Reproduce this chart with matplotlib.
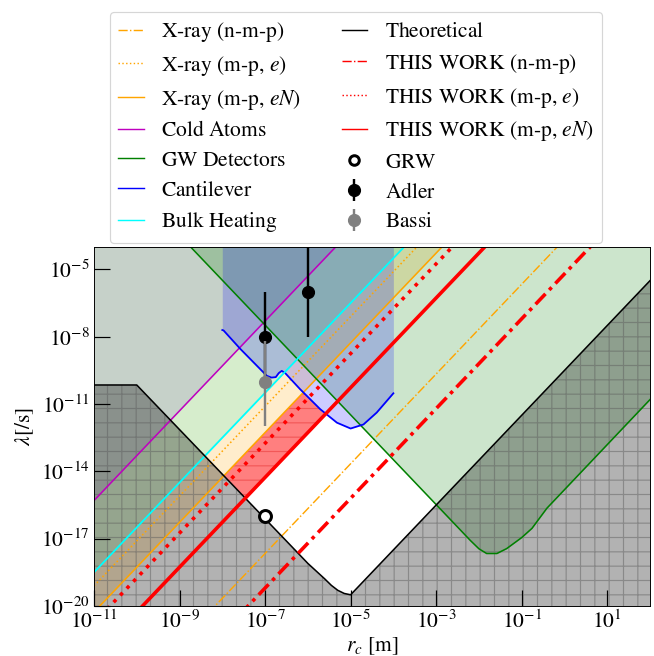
import numpy as np
import matplotlib
matplotlib.use('Agg')
import matplotlib.pyplot as plt
from matplotlib.lines import Line2D

plt.rcParams['font.family'] = ['STIXGeneral', 'DejaVu Serif']
plt.rcParams['mathtext.fontset'] = 'stix'
plt.rcParams['font.size'] = 18
plt.rcParams['hatch.linewidth'] = 1.0

# all values are log10 (r_c in m, lambda in 1/s)
rc_ends = [-11, 2]

# straight bounds (slope 2), lambda at r_c = 1e-11 and 1e2
cold_atoms = [-15.3, 10.7]
bulk_heating = [-18.5, 7.5]
xray_mpe = [-19.1, 6.9]
xray_mpeN = [-20.27, 5.73]
xray_nmp = [-25.66, 0.34]
tw_mpe = [-20.75, 5.25]
tw_mpeN = [-22.27, 3.73]
tw_nmp = [-27.2, -1.2]

# theoretical lower bound
theo_rc = [-11, -10, -6, -5.6, -5.45, -5.3, -5.15, -5.0, 2]
theo_lam = [-10.15, -10.15, -18.1, -18.8, -19.08, -19.3, -19.44, -19.5, -5.5]

# GW detectors
gw_rc = [-9.0, -2.2, -2.0, -1.82, -1.58, -1.35, -1.0, -0.76, -0.55, -0.41, 2.0]
gw_lam = [-3.48, -17.08, -17.45, -17.66, -17.66, -17.44, -16.95, -16.54, -16.0, -15.64, -10.8]

# cantilever
cant_rc = [-8.0, -7.97, -7.58, -7.27, -6.96, -6.85, -6.75, -6.68, -6.61, -6.53,
           -6.18, -5.71, -5.32, -5.0, -4.7, -4.39, -4.0]
cant_lam = [-7.7, -7.72, -8.54, -9.14, -9.74, -9.82, -9.8, -9.62, -9.52, -9.62,
            -10.34, -11.23, -11.83, -12.09, -11.91, -11.38, -10.52]

# experimental points: r_c, lambda, lower, upper
grw = [-7, -16]
adler_rc = [-7, -6]
adler_lam = [-8, -6]
adler_lo = [-10, -8]
adler_hi = [-6, -4]
bassi_rc = [-7]
bassi_lam = [-10]
bassi_lo = [-12]
bassi_hi = [-8.2]

TOP = 1e-3
BOT = 1e-21


def p(v):
    return 10.0 ** np.asarray(v, dtype=float)


fig = plt.figure(figsize=(654 / 86, 656 / 86), dpi=86)
ax = fig.add_axes([0.1437, 0.0762, 0.8502, 0.5473])
ax.set_xscale('log')
ax.set_yscale('log')

X = p(rc_ends)

# excluded regions
ax.fill_between(X, p(cold_atoms), TOP, color='#8228f0', alpha=0.2, lw=0)
ax.fill_between(X, p(bulk_heating), TOP, color='cyan', alpha=0.2, lw=0)
ax.fill_between(X, p(xray_mpeN), TOP, color='orange', alpha=0.2, lw=0)
ax.fill_between(p(gw_rc), p(gw_lam), TOP, color='g', alpha=0.2, lw=0)
ax.fill_between(p(cant_rc), p(cant_lam), TOP, color='b', alpha=0.2, lw=0)

# new region excluded by this work
lx = np.linspace(-11, 2, 2601)
lower = np.maximum(np.interp(lx, rc_ends, tw_mpeN), np.interp(lx, theo_rc, theo_lam))
gw_g = np.interp(lx, gw_rc, gw_lam, left=np.inf, right=np.inf)
cant_g = np.interp(lx, cant_rc, cant_lam, left=np.inf, right=np.inf)
upper = np.minimum(np.minimum(np.interp(lx, rc_ends, xray_mpeN), gw_g), cant_g)
ax.fill_between(p(lx), p(lower), p(np.maximum(upper, lower)), where=upper > lower,
                facecolor=(1, 0, 0, 0.5), edgecolor=(0.9, 0.2, 0.2, 0.5), hatch='-', lw=0)

# theoretical
ax.fill_between(p(theo_rc), p(theo_lam), BOT, facecolor=(0, 0, 0, 0.3),
                edgecolor=(0.35, 0.35, 0.35, 0.45), hatch='+', lw=0)

# lines
ax.plot(X, p(xray_nmp), color='orange', ls='-.', lw=1.2)
ax.plot(X, p(xray_mpe), color='orange', ls=':', lw=1.3)
ax.plot(X, p(xray_mpeN), color='orange', ls='-', lw=1.3)
ax.plot(X, p(cold_atoms), color='m', lw=1.3)
ax.plot(p(gw_rc), p(gw_lam), color='g', lw=1.3)
ax.plot(p(cant_rc), p(cant_lam), color='b', lw=1.5)
ax.plot(X, p(bulk_heating), color='cyan', lw=1.5)
ax.plot(p(theo_rc), p(theo_lam), color='k', lw=1.3)
ax.plot(X, p(tw_nmp), color='r', lw=3, dashes=(4, 1.5, 1, 1.5))
ax.plot(X, p(tw_mpe), color='r', lw=3, ls=':')
ax.plot(X, p(tw_mpeN), color='r', lw=3, ls='-')

eb_adler = ax.errorbar(p(adler_rc), p(adler_lam),
                       yerr=[p(adler_lam) - p(adler_lo), p(adler_hi) - p(adler_lam)],
                       fmt='o', color='k', ms=10, elinewidth=2, zorder=5)
eb_bassi = ax.errorbar(p(bassi_rc), p(bassi_lam),
                       yerr=[p(bassi_lam) - p(bassi_lo), p(bassi_hi) - p(bassi_lam)],
                       fmt='o', color='grey', ms=10, elinewidth=2, zorder=6)
ax.plot(p(grw[0]), p(grw[1]), 'o', mfc='w', mec='k', mew=2.5, ms=10, zorder=7)

ax.set_xlim(1e-11, 1e2)
ax.set_ylim(1e-20, 1e-4)
ax.set_xticks(p([-11, -9, -7, -5, -3, -1, 1]))
ax.set_yticks(p([-20, -17, -14, -11, -8, -5]))
ax.minorticks_off()
ax.tick_params(direction='in', length=13, width=1, top=False, right=False)
ax.set_xlabel('$r_c$ [m]', labelpad=2)
ax.set_ylabel(r'$\lambda$[/s]')

handles = [
    Line2D([], [], color='orange', ls='-.', lw=1.2),
    Line2D([], [], color='orange', ls=':', lw=1.2),
    Line2D([], [], color='orange', lw=1.2),
    Line2D([], [], color='m', lw=1.2),
    Line2D([], [], color='g', lw=1.2),
    Line2D([], [], color='b', lw=1.2),
    Line2D([], [], color='cyan', lw=1.2),
    Line2D([], [], color='k', lw=1.2),
    Line2D([], [], color='r', ls='-.', lw=1.2),
    Line2D([], [], color='r', ls=':', lw=1.2),
    Line2D([], [], color='r', lw=1.2),
    Line2D([], [], marker='o', ls='none', mfc='w', mec='k', mew=2.5, ms=8),
    eb_adler,
    eb_bassi,
]
# '${}$' keeps every label on the mathtext path so they line up
labels = ['X-ray (n-m-p)${}$', 'X-ray (m-p, $e$)', 'X-ray (m-p, $eN$)', 'Cold Atoms${}$',
          'GW Detectors${}$', 'Cantilever${}$', 'Bulk Heating${}$', 'Theoretical${}$',
          'THIS WORK (n-m-p)${}$', 'THIS WORK (m-p, $e$)', 'THIS WORK (m-p, $eN$)',
          'GRW${}$', 'Adler${}$', 'Bassi${}$']
fig.legend(handles, labels, ncol=2, loc='lower center', bbox_to_anchor=(0.544, 0.6296),
           borderaxespad=0, handlelength=1.2, handletextpad=0.8, columnspacing=1.87,
           labelspacing=0.45)

fig.savefig('out.png', dpi=86)
